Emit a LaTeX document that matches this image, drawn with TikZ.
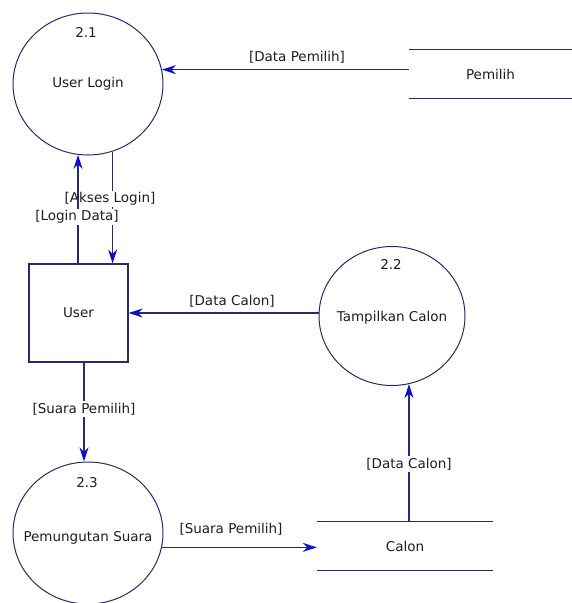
\documentclass[tikz,border=0pt]{standalone}
\usepackage{fontspec}
\setmainfont{DejaVu Sans}
\usetikzlibrary{arrows.meta,shapes.geometric}
\definecolor{flowline}{RGB}{40,40,115}
\definecolor{flowtip}{RGB}{15,15,200}
\definecolor{labeltext}{RGB}{30,30,30}

\begin{document}
\begin{tikzpicture}[x=1pt,y=-1pt,
  font=\fontsize{13.5}{15}\selectfont, text=labeltext,
  process/.style={draw=flowline, line width=1pt, ellipse, inner sep=0pt,
    minimum width=150pt, minimum height=142pt},
  entity/.style={draw=flowline, line width=1.2pt, rectangle, inner sep=0pt,
    minimum width=99pt, minimum height=98pt},
  store/.style={rectangle, inner sep=0pt, minimum height=49pt},
  storeline/.style={draw=flowline, line width=1.2pt},
  flow/.style={draw=flowline, line width=1.2pt,
    -{Stealth[length=14pt, width=9pt, inset=4.5pt, color=flowtip]}},
  flowlabel/.style={fill=white, inner sep=1.5pt},
  txt/.style={inner sep=0pt}]

\useasboundingbox (0,0) rectangle (572,603);
\fill[white] (0,0) rectangle (572,603);

% processes
\node[process] (p21) at (88,84) {};
\node[txt] (n21) at (86,32) {2.1};
\node[txt] (t21) at (88,84) {User Login};

\node[process, minimum width=146pt, minimum height=139pt] (p22) at (392,316) {};
\node[txt] (n22) at (391,264) {2.2};
\node[txt] (t22) at (392,318) {Tampilkan Calon};

\node[process] (p23) at (88,533) {};
\node[txt] (n23) at (87,483) {2.3};
\node[txt] (t23) at (88,538) {Pemungutan Suara};

% external entity
\node[entity] (user) at (78.5,313) {User};

% data stores
\node[store, minimum width=163pt] (pemilih) at (490.5,74) {Pemilih};
\draw[storeline] (pemilih.north west) -- (pemilih.north east);
\draw[storeline] (pemilih.south west) -- (pemilih.south east);

\node[store, minimum width=176pt, minimum height=48pt] (calon) at (405,546) {Calon};
\draw[storeline] (calon.north west) -- (calon.north east);
\draw[storeline] (calon.south west) -- (calon.south east);

% data flows
\draw[flow] (pemilih.west |- p21.11) -- (p21.11);
\node[txt] (lDataPemilih) at (297,57) {[Data Pemilih]};

\draw[flow] (p21.290) -- (p21.290 |- user.north);
\node[flowlabel] (lAkses) at (110,199) {[Akses Login]};

\draw[flow] (user.north -| p21.262) -- (p21.262);
\node[flowlabel] (lLogin) at (77,217) {[Login Data]};

\draw[flow] (p22.west |- user.east) -- (user.east);
\node[txt] (lDataCalonA) at (232,301) {[Data Calon]};

\draw[flow] ([xshift=5.5pt]user.south) -- ([xshift=5.5pt]user.south |- p23.north);
\node[flowlabel] (lSuaraA) at (84,409) {[Suara Pemilih]};

\draw[flow] (p23.-11) -- (p23.-11 -| calon.west);
\node[txt] (lSuaraB) at (231,529) {[Suara Pemilih]};

\draw[flow] (calon.north -| p22.284) -- (p22.284);
\node[flowlabel] (lDataCalonB) at (409,464) {[Data Calon]};
\end{tikzpicture}
\end{document}
